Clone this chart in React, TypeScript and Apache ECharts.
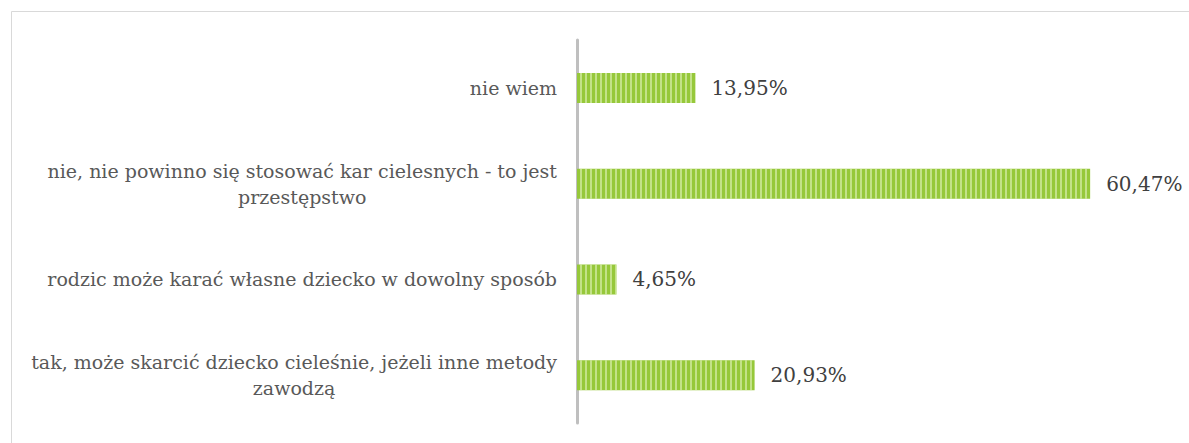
import React, { useEffect, useRef } from "react";
import * as echarts from "echarts";

const categories = [
  "tak, może skarcić dziecko cieleśnie, jeżeli inne metody\nzawodzą",
  "rodzic może karać własne dziecko w dowolny sposób",
  "nie, nie powinno się stosować kar cielesnych - to jest\nprzestępstwo",
  "nie wiem",
];
const values = [20.93, 4.65, 60.47, 13.95];

const FONT = "DejaVu Serif";

export default function App() {
  const ref = useRef<HTMLDivElement>(null);
  useEffect(() => {
    document.body.style.margin = "0";
    const chart = echarts.init(ref.current!, null, { renderer: "svg" });
    chart.setOption({
      animation: false,
      backgroundColor: "#ffffff",
      textStyle: { fontFamily: FONT },
      graphic: [
        {
          type: "rect",
          shape: { x: 11.5, y: 11.5, width: 1200, height: 460 },
          style: { fill: "none", stroke: "#d9d9d9", lineWidth: 1 },
          z: -1,
        },
      ],
      grid: { left: 577, top: 40, right: 18, bottom: 20 },
      xAxis: {
        type: "value",
        min: 0,
        max: 70,
        show: false,
      },
      yAxis: {
        type: "category",
        data: categories,
        axisLine: { show: true, lineStyle: { color: "#bfbfbf", width: 3 } },
        axisTick: { show: false },
        axisLabel: {
          margin: 20,
          fontFamily: FONT,
          fontSize: 19,
          color: "#595959",
          lineHeight: 26,
          formatter: (v: string) =>
            v
              .split("\n")
              .map((l) => "{c|" + l + "}")
              .join("\n"),
          rich: {
            c: {
              align: "center",
              fontFamily: FONT,
              fontSize: 19,
              color: "#595959",
              lineHeight: 26,
            },
          },
        },
      },
      series: [
        {
          type: "bar",
          data: values,
          barWidth: 30,
          itemStyle: {
            color: "#96c83a",
            decal: {
              symbol: "rect",
              dashArrayX: [2, 3],
              dashArrayY: [1, 0],
              rotation: 0,
              color: "rgba(225,243,190,0.6)",
            },
          },
          label: {
            show: true,
            position: "right",
            distance: 16,
            fontFamily: FONT,
            fontSize: 20,
            color: "#404040",
            formatter: (p: any) => p.value.toFixed(2).replace(".", ",") + "%",
          },
        },
      ],
    });
    return () => chart.dispose();
  }, []);
  return <div ref={ref} style={{ width: 1189, height: 443 }} />;
}
